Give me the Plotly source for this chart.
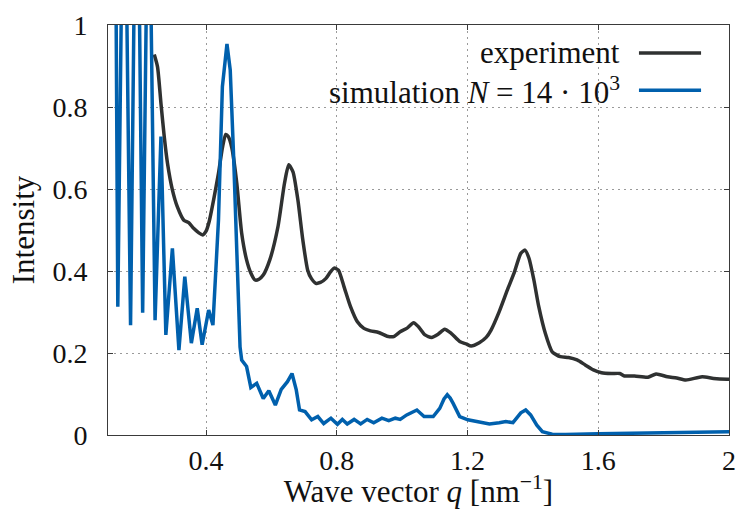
import plotly.graph_objects as go

# experiment
exp_q = [0.2415, 0.2515, 0.262, 0.272, 0.282, 0.297, 0.312, 0.332, 0.347, 0.362, 0.378, 0.390, 0.400, 0.410,
         0.423, 0.438, 0.450, 0.460, 0.468, 0.479, 0.494, 0.509, 0.524, 0.537, 0.550, 0.562, 0.575, 0.595,
         0.620, 0.640, 0.653, 0.666, 0.681, 0.696, 0.711, 0.722, 0.736, 0.750, 0.767, 0.780, 0.792, 0.805,
         0.822, 0.842, 0.863, 0.883, 0.903, 0.928, 0.954, 0.974, 0.994, 1.014, 1.035, 1.050, 1.070, 1.090,
         1.110, 1.130, 1.150, 1.176, 1.196, 1.211, 1.236, 1.257, 1.272, 1.297, 1.322, 1.342, 1.363, 1.376,
         1.388, 1.403, 1.418, 1.438, 1.459, 1.484, 1.509, 1.535, 1.560, 1.585, 1.610, 1.640, 1.666, 1.680,
         1.711, 1.752, 1.777, 1.812, 1.840, 1.868, 1.918, 1.953, 1.994, 2.000]
exp_I = [0.928, 0.898, 0.809, 0.728, 0.663, 0.598, 0.557, 0.524, 0.518, 0.504, 0.493, 0.488, 0.497, 0.522,
         0.573, 0.638, 0.700, 0.733, 0.728, 0.700, 0.614, 0.492, 0.427, 0.395, 0.378, 0.380, 0.390, 0.427,
         0.508, 0.614, 0.659, 0.642, 0.573, 0.476, 0.402, 0.382, 0.370, 0.372, 0.382, 0.397, 0.407, 0.402,
         0.362, 0.313, 0.276, 0.260, 0.254, 0.250, 0.241, 0.240, 0.252, 0.260, 0.274, 0.264, 0.244, 0.238,
         0.246, 0.258, 0.248, 0.228, 0.222, 0.217, 0.225, 0.238, 0.256, 0.301, 0.354, 0.394, 0.443, 0.451,
         0.431, 0.378, 0.313, 0.248, 0.203, 0.191, 0.189, 0.183, 0.171, 0.159, 0.152, 0.150, 0.150, 0.144,
         0.144, 0.141, 0.149, 0.142, 0.139, 0.134, 0.142, 0.138, 0.136, 0.136]

# simulation N = 14e3
sim_q = [0.120, 0.130, 0.149, 0.169, 0.188, 0.206, 0.224, 0.244, 0.262, 0.277, 0.297, 0.317, 0.335, 0.355,
         0.373, 0.388, 0.408, 0.421, 0.438, 0.450, 0.464, 0.474, 0.484, 0.494, 0.504, 0.509, 0.524, 0.537,
         0.555, 0.575, 0.592, 0.612, 0.630, 0.649, 0.663, 0.676, 0.686, 0.703, 0.723, 0.742, 0.760, 0.782,
         0.802, 0.817, 0.832, 0.853, 0.873, 0.893, 0.913, 0.938, 0.959, 0.979, 0.994, 1.014, 1.030, 1.045,
         1.067, 1.095, 1.115, 1.128, 1.138, 1.147, 1.156, 1.176, 1.201, 1.232, 1.267, 1.297, 1.317, 1.339,
         1.363, 1.378, 1.393, 1.412, 1.429, 1.459, 1.500, 1.600, 1.700, 1.800, 1.900, 2.000]
sim_I = [1.70, 0.313, 1.60, 0.268, 1.65, 0.298, 1.50, 0.280, 0.728, 0.244, 0.455, 0.207, 0.386, 0.224,
         0.309, 0.220, 0.305, 0.268, 0.524, 0.850, 0.954, 0.890, 0.687, 0.443, 0.215, 0.183, 0.167, 0.116,
         0.126, 0.089, 0.108, 0.073, 0.111, 0.130, 0.150, 0.110, 0.061, 0.057, 0.037, 0.045, 0.028, 0.041,
         0.026, 0.038, 0.027, 0.038, 0.027, 0.038, 0.030, 0.041, 0.035, 0.041, 0.038, 0.049, 0.056, 0.061,
         0.045, 0.045, 0.065, 0.088, 0.098, 0.090, 0.077, 0.045, 0.037, 0.033, 0.027, 0.030, 0.033, 0.030,
         0.054, 0.061, 0.049, 0.024, 0.008, 0.002, 0.001, 0.003, 0.004, 0.005, 0.006, 0.008]

x_ticks = [0.4, 0.8, 1.2, 1.6, 2.0]
x_tick_labels = ["0.4", "0.8", "1.2", "1.6", "2"]
y_ticks = [0, 0.2, 0.4, 0.6, 0.8, 1.0]
y_tick_labels = ["0", "0.2", "0.4", "0.6", "0.8", "1"]

legend_names = ["experiment", "simulation <i>N</i> = 14 · 10<sup>3</sup>"]
colors = ["#2f3131", "#0060ad"]

FONT = "Liberation Serif"
FS_TICK = 28
FS = 31
fig = go.Figure()
fig.add_trace(go.Scatter(x=exp_q, y=exp_I, mode="lines", line=dict(color=colors[0], width=3.5, shape="spline", smoothing=0.6),
                         showlegend=False))
fig.add_trace(go.Scatter(x=sim_q, y=sim_I, mode="lines", line=dict(color=colors[1], width=3.5),
                         showlegend=False))

axis_common = dict(showline=True, linecolor="#3a3a3a", linewidth=1, mirror="ticks", ticks="inside",
                   ticklen=5, tickcolor="#3a3a3a", showgrid=True, gridcolor="#9a9a9a", griddash="2px,4px",
                   gridwidth=1, zeroline=False, tickfont=dict(family=FONT, size=FS_TICK, color="#111"))
fig.update_xaxes(range=[0.1, 2.0], tickvals=x_ticks, ticktext=x_tick_labels,
                 title=dict(text="Wave vector <i>q</i> [nm<sup>−1</sup>]", font=dict(family=FONT, size=FS, color="#111"), standoff=4),
                 ticklabelstandoff=0, **axis_common)
fig.update_yaxes(range=[0, 1.0], tickvals=y_ticks, ticktext=y_tick_labels,
                 title=dict(text="Intensity", font=dict(family=FONT, size=FS, color="#111"), standoff=8),
                 ticklabelstandoff=14, **axis_common)

# legend (text right, line sample on the right, like the original)
leg_y = [0.932, 0.841]
for name, c, yy in zip(legend_names, colors, leg_y):
    fig.add_annotation(x=0.828, y=yy, xref="paper", yref="paper", text=name, showarrow=False,
                       xanchor="right", yanchor="middle", font=dict(family=FONT, size=FS, color="#111"))
    fig.add_shape(type="line", xref="paper", yref="paper", x0=0.855, x1=0.955, y0=yy, y1=yy,
                  line=dict(color=c, width=3.5))

fig.update_layout(width=744, height=509, margin=dict(l=108, r=8, t=25, b=74),
                  plot_bgcolor="white", paper_bgcolor="white", showlegend=False)
fig.write_html("out.html")
